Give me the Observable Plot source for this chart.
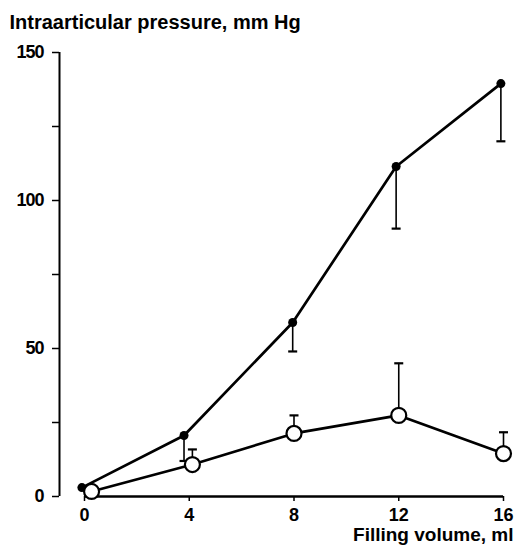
<!DOCTYPE html>
<html><head><meta charset="utf-8">
<script src="https://cdn.jsdelivr.net/npm/d3@7"></script>
<script src="https://cdn.jsdelivr.net/npm/@observablehq/plot@0.6"></script>
<style>body{margin:0;background:#fff} g[aria-label="y-axis tick label"] text{letter-spacing:-1px}</style>
</head><body><div id="chart"></div>
<script>
const titleText = "Intraarticular pressure, mm Hg";
const xLabelText = "Filling volume, ml";
const xTicks = [0, 4, 8, 12, 16];
const yTicks = [0, 25, 50, 75, 100, 125, 150];
const yLabelTicks = [0, 50, 100, 150];

// closed (filled) circles: mean and lower error limit
const closedX = [-0.1, 3.8, 7.95, 11.9, 15.9];
const closedY = [3, 20.6, 58.8, 111.5, 139.5];
const closedLow = [null, 12, 49, 90.5, 120];

// open circles: mean and upper error limit
const openX = [0.27, 4.12, 8.0, 12.0, 16.0];
const openY = [1.7, 10.8, 21.3, 27.4, 14.5];
const openHigh = [null, 15.9, 27.4, 45, 21.7];

const closed = closedX.map((x, i) => ({x, y: closedY[i], e: closedLow[i]}));
const open = openX.map((x, i) => ({x, y: openY[i], e: openHigh[i]}));
const bars = [...closed, ...open].filter(d => d.e != null);
const cap = {draw(ctx) { ctx.moveTo(-4.5, 0); ctx.lineTo(4.5, 0); }};

const chart = Plot.plot({
  width: 514, height: 549,
  marginLeft: 84, marginRight: 11, marginTop: 52, marginBottom: 53,
  style: {fontFamily: "'Liberation Sans', Arial, sans-serif", background: "#fff", color: "#000"},
  x: {domain: [0, 16]},
  y: {domain: [0, 150]},
  marks: [
    Plot.ruleY([0], {strokeWidth: 2.5}),
    Plot.ruleX([0], {y1: 0, y2: 150, dx: -25, strokeWidth: 2}),
    Plot.axisX({ticks: xTicks, tickSize: 5, tickPadding: 7, fontSize: 18, fontWeight: "bold", strokeWidth: 1.5, label: null}),
    Plot.axisY({ticks: yTicks, tickSize: 7, tickPadding: 9, dx: -25, strokeWidth: 1.5,
      tickFormat: d => yLabelTicks.includes(d) ? String(d) : "", fontSize: 18, fontWeight: "bold", label: null}),
    Plot.ruleX(bars, {x: "x", y1: "y", y2: "e", strokeWidth: 1.6}),
    Plot.dot(bars, {x: "x", y: "e", symbol: cap, r: 5, stroke: "black", fill: "none", strokeWidth: 2.2}),
    Plot.line(closed, {x: "x", y: "y", strokeWidth: 2.7}),
    Plot.line(open, {x: "x", y: "y", strokeWidth: 2.7}),
    Plot.dot(closed, {x: "x", y: "y", r: 4.5, fill: "black"}),
    Plot.dot(open, {x: "x", y: "y", r: 7.5, fill: "white", stroke: "black", strokeWidth: 2.2}),
    Plot.text([titleText], {text: d => d, frameAnchor: "top-left", textAnchor: "start", lineAnchor: "bottom", dx: -75, dy: -24, fontSize: 20, fontWeight: "bold"}),
    Plot.text([xLabelText], {text: d => d, frameAnchor: "bottom-right", textAnchor: "end", lineAnchor: "bottom", dx: 10, dy: 44, fontSize: 19, fontWeight: "bold"})
  ]
});
document.getElementById("chart").appendChild(chart);
</script>
</body></html>
